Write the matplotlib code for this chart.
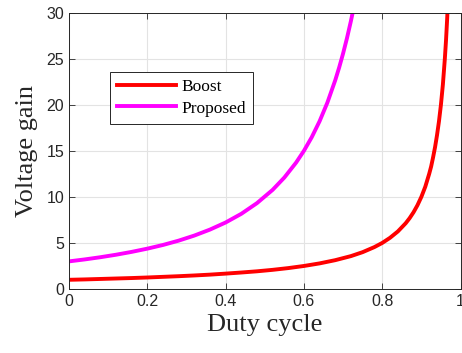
import matplotlib
matplotlib.use("Agg")
import matplotlib.pyplot as plt
import numpy as np

# duty cycle vs voltage gain
boost_d = [0, 0.04, 0.08, 0.12, 0.16, 0.2, 0.24, 0.28, 0.32, 0.36, 0.4, 0.44,
           0.48, 0.52, 0.56, 0.6, 0.64, 0.68, 0.72, 0.75, 0.78, 0.8, 0.82, 0.84,
           0.86, 0.87, 0.88, 0.89, 0.9, 0.91, 0.92, 0.925, 0.93, 0.935, 0.94,
           0.945, 0.95, 0.955, 0.96, 0.963, 0.966, 0.97]
boost_g = [1.0, 1.04, 1.09, 1.14, 1.19, 1.25, 1.32, 1.39, 1.47, 1.56, 1.67, 1.79,
           1.92, 2.08, 2.27, 2.5, 2.78, 3.13, 3.57, 4.0, 4.55, 5.0, 5.56, 6.25,
           7.14, 7.69, 8.33, 9.09, 10.0, 11.1, 12.5, 13.3, 14.3, 15.4, 16.7,
           18.2, 20.0, 22.2, 25.0, 27.0, 29.4, 33.3]

prop_d = [0, 0.04, 0.08, 0.12, 0.16, 0.2, 0.24, 0.28, 0.32, 0.36, 0.4, 0.44,
          0.48, 0.52, 0.55, 0.58, 0.6, 0.62, 0.64, 0.66, 0.68, 0.69, 0.7, 0.71,
          0.72, 0.73]
prop_g = [3.0, 3.21, 3.45, 3.72, 4.03, 4.38, 4.78, 5.25, 5.80, 6.45, 7.22, 8.16,
          9.32, 10.76, 12.1, 13.72, 15.0, 16.48, 18.21, 20.24, 22.66, 24.04,
          25.56, 27.23, 29.08, 31.1]

xticks = [0, 0.2, 0.4, 0.6, 0.8, 1]
xticklabels = ["0", "0.2", "0.4", "0.6", "0.8", "1"]
yticks = [0, 5, 10, 15, 20, 25, 30]

fig = plt.figure(figsize=(4.62, 3.53), dpi=100)
ax = fig.add_axes([69 / 462, 1 - 289 / 353, 391.5 / 462, 276.3 / 353])

ax.plot(boost_d, boost_g, color="#ff0000", lw=2.8, label="Boost", solid_joinstyle="round")
ax.plot(prop_d, prop_g, color="#ff00ff", lw=2.8, label="Proposed", solid_joinstyle="round")

ax.set_xlim(0, 1)
ax.set_ylim(0, 30)
ax.set_xticks(xticks)
ax.set_xticklabels(xticklabels, family="Liberation Sans", fontsize=11.5, color="#262626")
ax.set_yticks(yticks)
ax.set_yticklabels([str(v) for v in yticks], family="Liberation Sans", fontsize=11.5, color="#262626")
ax.tick_params(direction="in", top=True, right=True, length=4, width=0.6, color="#262626")
ax.grid(True, color="#e3e3e3", lw=0.8)
ax.set_axisbelow(True)
for s in ax.spines.values():
    s.set_color("#262626")
    s.set_linewidth(0.7)

ax.set_xlabel("Duty cycle", family="Liberation Serif", fontsize=19, color="#262626", labelpad=4)
ax.set_ylabel("Voltage gain", family="Liberation Serif", fontsize=19, color="#262626", labelpad=6)

leg = ax.legend(loc="upper left", bbox_to_anchor=(0.105, 0.785), borderaxespad=0,
                prop={"family": "Liberation Serif", "size": 12.5}, fancybox=False,
                edgecolor="#262626", framealpha=1, handlelength=3.4,
                handletextpad=0.3, labelspacing=0.3, borderpad=0.4)
leg.get_frame().set_linewidth(0.7)

fig.savefig("out.png", dpi=100)
